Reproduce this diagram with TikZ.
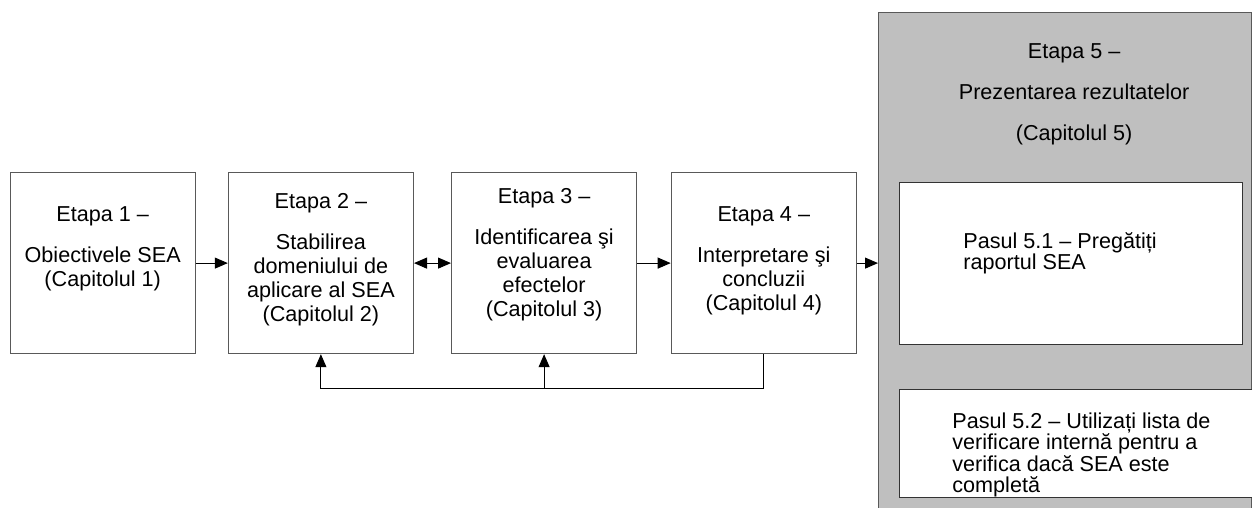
\documentclass[tikz,border=0pt]{standalone}
\usepackage{fontspec}
\setmainfont{Liberation Sans}
\usetikzlibrary{positioning, arrows.meta}
\tikzstyle{etapa} = [rectangle, minimum width=92.5pt, minimum height=90.5pt, draw=black!65, line width=0.6pt, fill=white]
\tikzstyle{etapatext} = [align=center, inner sep=0pt, font=\fontsize{10.8pt}{12pt}\selectfont]
\tikzstyle{phase} = [rectangle, draw=black!65, line width=0.6pt, fill=black!25, minimum width=186.5pt, minimum height=256pt]
\tikzstyle{pas} = [rectangle, draw=black!80, line width=0.6pt, fill=white]
\tikzstyle{pastext} = [align=left, inner sep=0pt, font=\fontsize{10.8pt}{10.75pt}\selectfont]
\tikzstyle{arrow} = [line width=0.5pt, -{Triangle[length=6.5pt,width=5.5pt]}]
\tikzstyle{darrow} = [line width=0.5pt, {Triangle[length=6.5pt,width=5.5pt]}-{Triangle[length=6.5pt,width=5.5pt]}]

\begin{document}
\begin{tikzpicture}[node distance=16pt]
\useasboundingbox (0,0) rectangle (626pt,-254pt);

\node (etapa1) [etapa, anchor=north west] at (4.8pt,-86pt) {};
\node (etapa2) [etapa, right=16pt of etapa1] {};
\node (etapa3) [etapa, right=18.5pt of etapa2] {};
\node (etapa4) [etapa, right=16.75pt of etapa3] {};

\node (etapa1txt) [etapatext, below=17pt of etapa1.north] {Etapa 1 –\\[8.5pt]Obiectivele SEA\\(Capitolul 1)};
\node (etapa2txt) [etapatext, below=10.5pt of etapa2.north] {Etapa 2 –\\[8.5pt]Stabilirea\\domeniului de\\aplicare al SEA\\(Capitolul 2)};
\node (etapa3txt) [etapatext, below=8pt of etapa3.north] {Etapa 3 –\\[8.5pt]Identificarea şi\\evaluarea\\efectelor\\(Capitolul 3)};
\node (etapa4txt) [etapatext, below=17pt of etapa4.north] {Etapa 4 –\\[8.5pt]Interpretare şi\\concluzii\\(Capitolul 4)};

% etapa 5 with its two steps
\node (etapa5) [phase, anchor=north west] at (439pt,-6pt) {};
\node (etapa5txt) [etapatext, below=15.5pt of etapa5.north, xshift=4.5pt] {Etapa 5 –\\[8.5pt]Prezentarea rezultatelor\\[8.5pt](Capitolul 5)};

\node (pas1) [pas, minimum width=171.5pt, minimum height=81pt, below right=85pt and 10.5pt of etapa5.north west] {};
\node (pas1txt) [pastext, below right=25pt and 32pt of pas1.north west] {Pasul 5.1 – Pregătiți\\raportul SEA};

\node (pas2) [pas, minimum width=182pt, minimum height=54pt, below right=22pt and 0pt of pas1.south west] {};
\node (pas2txt) [pastext, below right=11.5pt and 26.5pt of pas2.north west] {Pasul 5.2 – Utilizați lista de\\verificare internă pentru a\\verifica dacă SEA este\\completă};

\draw [arrow] (etapa1) -- (etapa2);
\draw [darrow] (etapa2) -- (etapa3);
\draw [arrow] (etapa3) -- (etapa4);
\draw [arrow] (etapa4.east) -- (etapa4.east -| etapa5.west);

\coordinate [below=17pt of etapa4.south] (bucla);
\draw [arrow] (etapa4.south) -- (bucla) -| (etapa2.south);
\draw [arrow] (etapa3.south |- bucla) -- (etapa3.south);

\end{tikzpicture}
\end{document}
